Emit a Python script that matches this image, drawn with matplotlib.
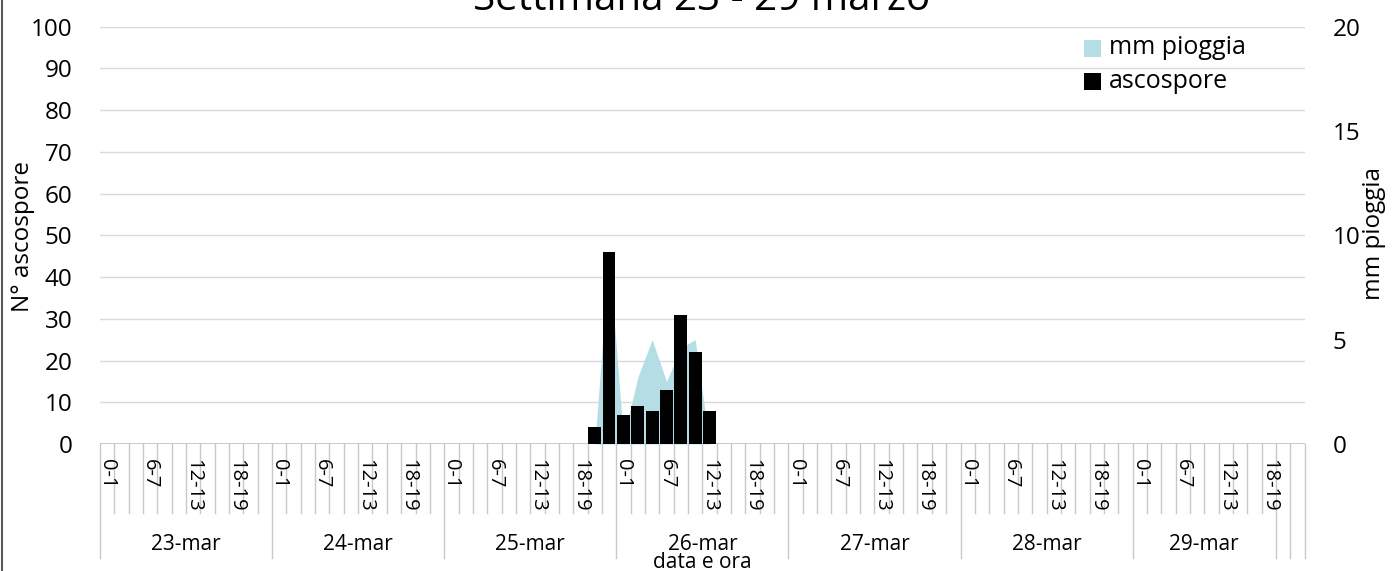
import matplotlib
matplotlib.use("Agg")
import matplotlib.pyplot as plt
from matplotlib.transforms import blended_transform_factory
from matplotlib.lines import Line2D
from matplotlib.patches import Rectangle

plt.rcParams['font.family'] = ['Open Sans', 'DejaVu Sans']

# ---------------- data ----------------
title = "Settimana 23 - 29 marzo"
day_labels = ["23-mar", "24-mar", "25-mar", "26-mar", "27-mar", "28-mar", "29-mar", "", ""]
slots_in_group = [12, 12, 12, 12, 12, 12, 10, 1, 1]
slot_labels = ["0-1", "2-3", "4-5", "6-7", "8-9", "10-11",
               "12-13", "14-15", "16-17", "18-19", "20-21", "22-23"]

# ascospore counts per 2-hour slot (84 slots)
ascospore = [
    0, 0, 0, 0, 0, 0, 0, 0, 0, 0, 0, 0,      # 23-mar
    0, 0, 0, 0, 0, 0, 0, 0, 0, 0, 0, 0,      # 24-mar
    0, 0, 0, 0, 0, 0, 0, 0, 0, 0, 4, 46,     # 25-mar
    7, 9, 8, 13, 31, 22, 8, 0, 0, 0, 0, 0,   # 26-mar
    0, 0, 0, 0, 0, 0, 0, 0, 0, 0, 0, 0,      # 27-mar
    0, 0, 0, 0, 0, 0, 0, 0, 0, 0, 0, 0,      # 28-mar
    0, 0, 0, 0, 0, 0, 0, 0, 0, 0, 0, 0,      # 29-mar
]
# rain (mm) per 2-hour slot
rain_mm = [
    0, 0, 0, 0, 0, 0, 0, 0, 0, 0, 0, 0,
    0, 0, 0, 0, 0, 0, 0, 0, 0, 0, 0, 0,
    0, 0, 0, 0, 0, 0, 0, 0, 0, 0, 0, 9.0,
    0.3, 3.2, 5.0, 3.0, 4.6, 5.0, 0, 0, 0, 0, 0, 0,
    0, 0, 0, 0, 0, 0, 0, 0, 0, 0, 0, 0,
    0, 0, 0, 0, 0, 0, 0, 0, 0, 0, 0, 0,
    0, 0, 0, 0, 0, 0, 0, 0, 0, 0, 0, 0,
]

# ---------------- layout helpers ----------------
W, H = 1394, 571
fig = plt.figure(figsize=(W / 100, H / 100), dpi=100)

def fx(px):
    return px / W

def fy(py):
    return 1 - py / H

x0, x1 = 100, 1304.7
y0, y100 = 444, 26.6
ax = fig.add_axes([fx(x0), fy(y0), fx(x1) - fx(x0), (y0 - y100) / H])
ax2 = ax.twinx()
ax3 = ax.twinx()

n = len(ascospore)
centers = [i + 0.5 for i in range(n)]

# primary axis: grid + left ticks
ax.set_xlim(0, n)
ax.set_ylim(0, 100)
ax.set_yticks(range(0, 101, 10))
ax.yaxis.grid(True, color="#d9d9d9", linewidth=1.0)
ax.set_axisbelow(True)
ax.tick_params(axis='y', length=0, pad=20, labelsize=17.5, colors="black")
ax.set_xticks([])
for s in ax.spines.values():
    s.set_visible(False)

# secondary axis: rain area
ax2.set_ylim(0, 20)
ax2.set_yticks(range(0, 21, 5))
ax2.tick_params(axis='y', length=0, pad=20, labelsize=17.5)
ax2.fill_between(centers, 0, rain_mm, color="#b4dde6", linewidth=0, zorder=1)
for s in ax2.spines.values():
    s.set_visible(False)

# top axis: bars
ax3.set_ylim(0, 100)
ax3.set_xlim(0, n)
ax3.bar(centers, ascospore, width=0.886, color="black", linewidth=0, zorder=3)
ax3.set_yticks([])
for s in ax3.spines.values():
    s.set_visible(False)

# horizontal axis line
ax3.axhline(0, color="#bfbfbf", linewidth=1.2, zorder=2)

# ---------------- category axis (manual multi-level) ----------------
trans = blended_transform_factory(ax.transData, fig.transFigure)
hour_labels = []
group_starts = []
pos = 0
for g, cnt in enumerate(slots_in_group):
    group_starts.append(pos)
    for k in range(cnt):
        idx = pos + k
        hour_labels.append(slot_labels[idx % 12] if g < 7 else slot_labels[10 + g - 7])
    pos += cnt
group_starts.append(pos)

for i in range(n + 1):
    is_group = i in group_starts
    ybot = 558 if is_group else 513
    fig.add_artist(Line2D([i, i], [fy(y0), fy(ybot)], transform=trans,
                          color="#c8c8c8", linewidth=1.0))

for i in range(n):
    if i % 3 == 0:
        fig.text(i + 0.5, fy(459), hour_labels[i], transform=trans,
                 rotation=270, ha="center", va="top", fontsize=14.5)

for g in range(len(day_labels)):
    a, b = group_starts[g], group_starts[g + 1]
    if day_labels[g]:
        fig.text((a + b) / 2, fy(545), day_labels[g], transform=trans,
                 ha="center", va="center", fontsize=15)

fig.text(n / 2, fy(562), "data e ora", transform=trans,
         ha="center", va="center", fontsize=15)

# axis titles
fig.text(fx(23), fy(236), "N° ascospore", rotation=90, ha="center", va="center", fontsize=17.5)
fig.text(fx(1374), fy(234), "mm pioggia", rotation=90, ha="center", va="center", fontsize=17.5)

# title (partly cut at top as in reference)
fig.text(fx(702), fy(10), title, ha="center", va="baseline", fontsize=29)

# legend
leg_items = [("mm pioggia", "#b4dde6", 48), ("ascospore", "black", 82)]
for lab, col, yc in leg_items:
    fig.add_artist(Rectangle((fx(1084), fy(yc + 8.5)), 17 / W, 17 / H,
                             transform=fig.transFigure, facecolor=col, edgecolor="none"))
    fig.text(fx(1109), fy(yc), lab, ha="left", va="center", fontsize=18)

# left frame line
fig.add_artist(Line2D([fx(1.5), fx(1.5)], [0, 1], transform=fig.transFigure,
                      color="#595959", linewidth=1.5))

fig.savefig("out.png", dpi=100)
